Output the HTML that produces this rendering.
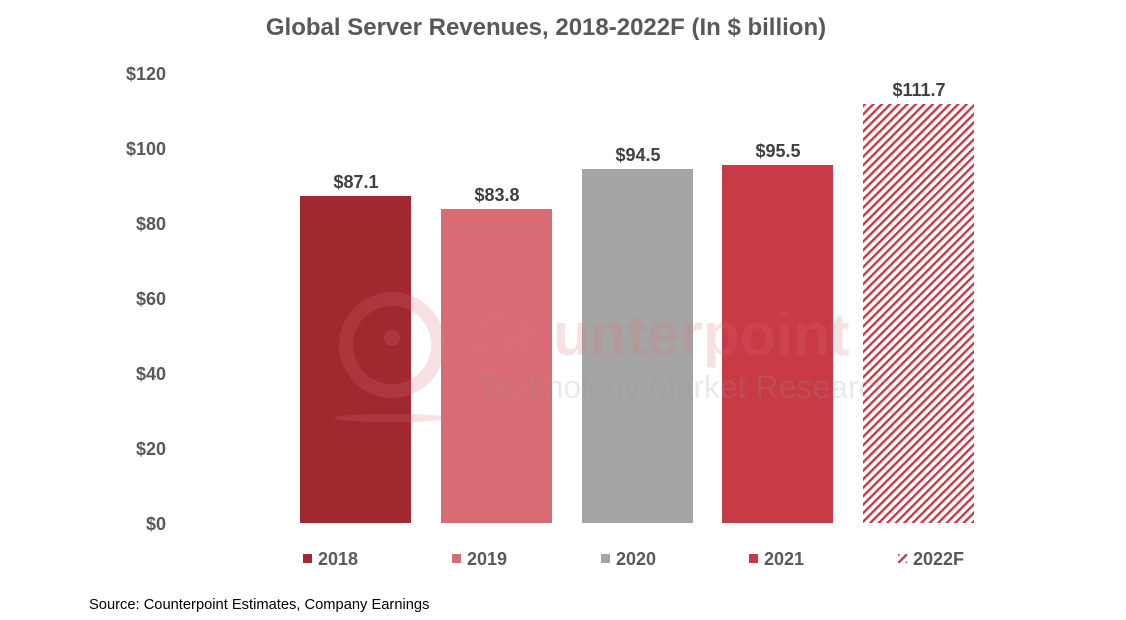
<!DOCTYPE html>
<html><head><meta charset="utf-8"><style>
body{margin:0;background:#fff;}
svg{display:block;font-family:"Liberation Sans",Arial,sans-serif;}
</style></head><body>
<svg width="1126" height="620" viewBox="0 0 1126 620" xmlns="http://www.w3.org/2000/svg">
<defs>
<pattern id="h" patternUnits="userSpaceOnUse" width="6" height="6" patternTransform="rotate(45)">
<rect width="6" height="6" fill="#fff"/><rect width="2.4" height="6" fill="#C83A45"/>
</pattern>
</defs>
<text x="546" y="35" text-anchor="middle" font-size="24" font-weight="bold" fill="#595959">Global Server Revenues, 2018-2022F (In $ billion)</text>
<g font-size="18" font-weight="bold" fill="#595959" text-anchor="end">
<text x="166" y="80">$120</text><text x="166" y="155">$100</text><text x="166" y="230">$80</text>
<text x="166" y="305">$60</text><text x="166" y="380">$40</text><text x="166" y="455">$20</text><text x="166" y="530">$0</text>
</g>
<rect x="300" y="196" width="111" height="327" fill="#A0292F"/>
<rect x="441" y="209" width="111" height="314" fill="#D86B73"/>
<rect x="582" y="169" width="111" height="354" fill="#A5A5A5"/>
<rect x="722" y="165" width="111" height="358" fill="#C83A45"/>
<rect x="863" y="104" width="111" height="419" fill="url(#h)"/>
<g opacity="0.2">
<circle cx="392" cy="345" r="46" fill="none" stroke="#E0707A" stroke-width="14"/>
<circle cx="392" cy="338" r="8" fill="#E0707A"/>
<ellipse cx="392" cy="418" rx="58" ry="4" fill="#E0707A"/>
<text x="473" y="355" font-size="60" font-weight="bold" fill="#E0707A">Counterpoint</text>
<text x="478" y="398" font-size="32" fill="#999">Technology Market Research</text>
</g>
<g font-size="18" font-weight="bold" fill="#404040" text-anchor="middle">
<text x="356" y="188">$87.1</text><text x="497" y="201">$83.8</text><text x="638" y="161">$94.5</text>
<text x="778" y="157">$95.5</text><text x="919" y="96">$111.7</text>
</g>
<g font-size="18" font-weight="bold" fill="#595959">
<rect x="303" y="554" width="9" height="9" fill="#A0292F"/><text x="318" y="565">2018</text>
<rect x="452" y="554" width="9" height="9" fill="#D86B73"/><text x="467" y="565">2019</text>
<rect x="601" y="554" width="9" height="9" fill="#A5A5A5"/><text x="616" y="565">2020</text>
<rect x="749" y="554" width="9" height="9" fill="#C83A45"/><text x="764" y="565">2021</text>
<rect x="898" y="554" width="9" height="9" fill="url(#h)"/><text x="913" y="565">2022F</text>
</g>
<text x="89" y="609" font-size="14.7" fill="#000">Source: Counterpoint Estimates, Company Earnings</text>
</svg>
</body></html>
